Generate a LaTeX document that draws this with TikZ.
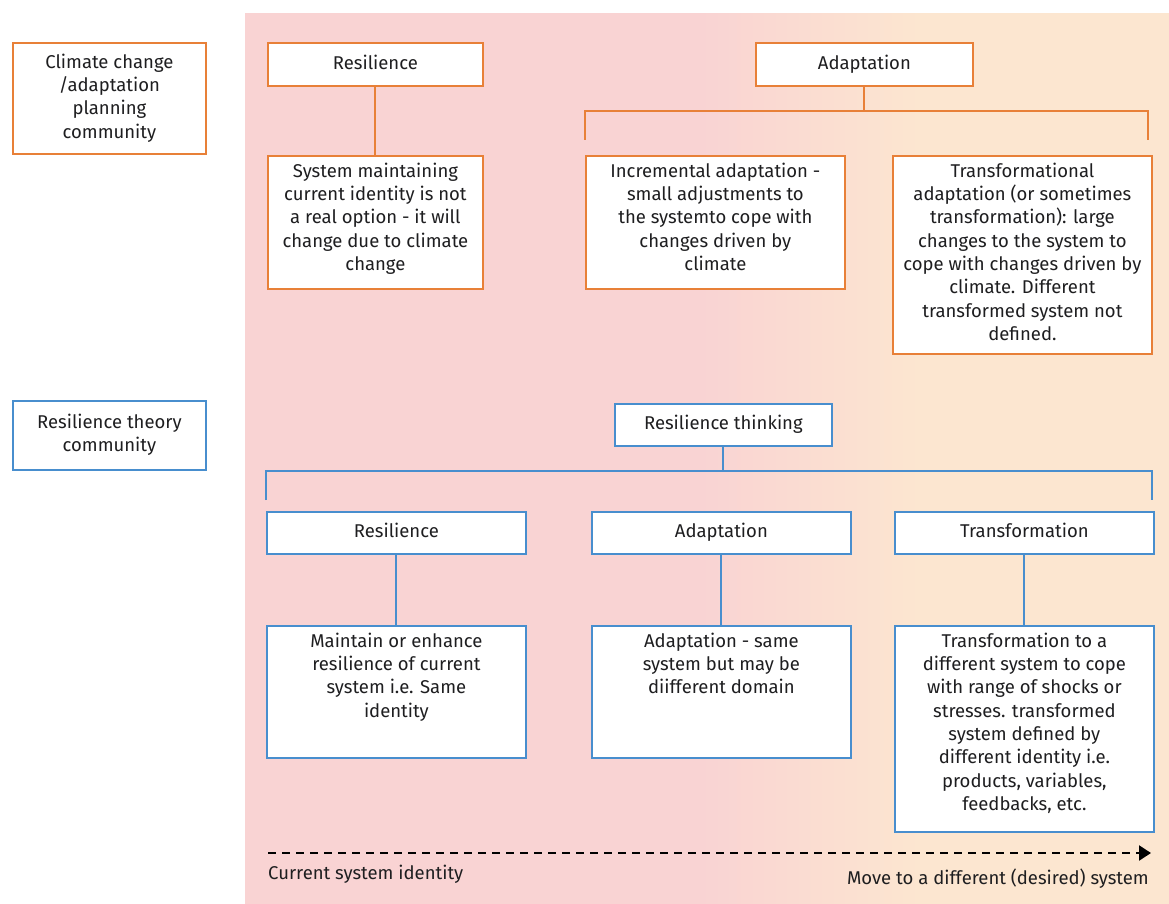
\documentclass[tikz,border=0pt]{standalone}
\usepackage{fontspec}
\setmainfont{Fira Sans}
\usetikzlibrary{arrows.meta}
\definecolor{ora}{RGB}{232,128,56}
\definecolor{blu}{RGB}{72,142,206}
\definecolor{pinkbg}{RGB}{249,211,211}
\definecolor{peachbg}{RGB}{252,230,208}
\definecolor{txt}{RGB}{30,30,32}
\newcommand{\bxc}[3]{\parbox[c][#2pt][c]{#1pt}{\centering\strut #3\strut\par}}
\newcommand{\bxt}[3]{\parbox[c][#2pt][t]{#1pt}{\vspace*{7pt}\centering #3\par}}
\tikzset{
  every node/.style={font=\fontsize{18.5}{23.3}\selectfont, text=txt},
  obox/.style={draw=ora, line width=1.8pt, fill=white, inner sep=0pt, anchor=north west},
  bbox/.style={draw=blu, line width=1.8pt, fill=white, inner sep=0pt, anchor=north west},
  oline/.style={draw=ora, line width=2pt},
  bline/.style={draw=blu, line width=2pt},
}
\begin{document}
\begin{tikzpicture}[x=1pt,y=-1pt]
\useasboundingbox (0,0) rectangle (1169,904);
% background
\begin{scope}
\clip (245,14) rectangle (1169,904);
\fill[pinkbg] (245,10) rectangle (1169,910);
\shade[left color=pinkbg, right color=peachbg] (700,10) rectangle (920,910);
\fill[peachbg] (919.5,10) rectangle (1169,910);
\end{scope}

% left labels
\node[obox] (cc) at (12,42) {\bxc{193}{111}{Climate change\\/adaptation\\planning\\community}};
\node[bbox] (rt) at (12,400) {\bxc{193}{69}{Resilience theory\\community}};

% orange part
\node[obox] (ores) at (267,42) {\bxc{215}{43}{Resilience}};
\node[obox] (osys) at (267,155) {\bxt{215}{133}{System maintaining\\current identity is not\\a real option - it will\\change due to climate\\change}};
\node[obox] (oada) at (755,42) {\bxc{217}{43}{Adaptation}};
\node[obox] (oinc) at (585,155) {\bxt{259}{133}{Incremental adaptation -\\small adjustments to\\the systemto cope with\\changes driven by\\climate}};
\node[obox] (otra) at (892,155) {\bxt{259}{198}{Transformational\\adaptation (or sometimes\\transformation): large\\changes to the system to\\cope with changes driven by\\climate. Different\\transformed system not\\defined.}};

\draw[oline] (ores.south) -- (osys.north);
\coordinate (ob) at (oada.south |- 0,111);
\coordinate (obl) at (585,111);
\coordinate (obr) at (1148,111);
\coordinate (obl2) at (585,140);
\coordinate (obr2) at (1148,140);
\draw[oline] (oada.south) -- (ob);
\draw[oline] (obl2) -- (obl) -- (obr) -- (obr2);

% blue part
\node[bbox] (bthk) at (614,403) {\bxc{217}{42}{Resilience thinking}};
\node[bbox] (bres) at (266,511) {\bxc{259}{42}{Resilience}};
\node[bbox] (bada) at (591,511) {\bxc{259}{42}{Adaptation}};
\node[bbox] (btra) at (894,511) {\bxc{259}{42}{Transformation}};
\node[bbox] (bmai) at (266,625) {\bxt{259}{132}{Maintain or enhance\\resilience of current\\system i.e. Same\\identity}};
\node[bbox] (bsam) at (591,625) {\bxt{259}{132}{Adaptation - same\\system but may be\\diifferent domain}};
\node[bbox] (bdif) at (894,625) {\bxt{259}{206}{Transformation to a\\different system to cope\\with range of shocks or\\stresses. transformed\\system defined by\\different identity i.e.\\products, variables,\\feedbacks, etc.}};

\coordinate (bb) at (bthk.south |- 0,471);
\coordinate (bbl) at (266,471);
\coordinate (bbr) at (1152,471);
\coordinate (bbl2) at (266,500);
\coordinate (bbr2) at (1152,500);
\draw[bline] (bthk.south) -- (bb);
\draw[bline] (bbl2) -- (bbl) -- (bbr) -- (bbr2);
\draw[bline] (bres.south) -- (bmai.north);
\draw[bline] (bada.south) -- (bsam.north);
\draw[bline] (btra.south) -- (bdif.north);

% bottom arrow
\coordinate (as) at (268,853);
\coordinate (ae) at (1151,853);
\draw[line width=2.2pt, dash pattern=on 8pt off 6pt, -{Triangle[length=12pt,width=15pt]}] (as) -- (ae);
\node[anchor=west, inner sep=0pt] (lcur) at (268,874) {Current system identity};
\node[anchor=east, inner sep=0pt] (lmov) at (1149,879) {Move to a different (desired) system};
\end{tikzpicture}
\end{document}
